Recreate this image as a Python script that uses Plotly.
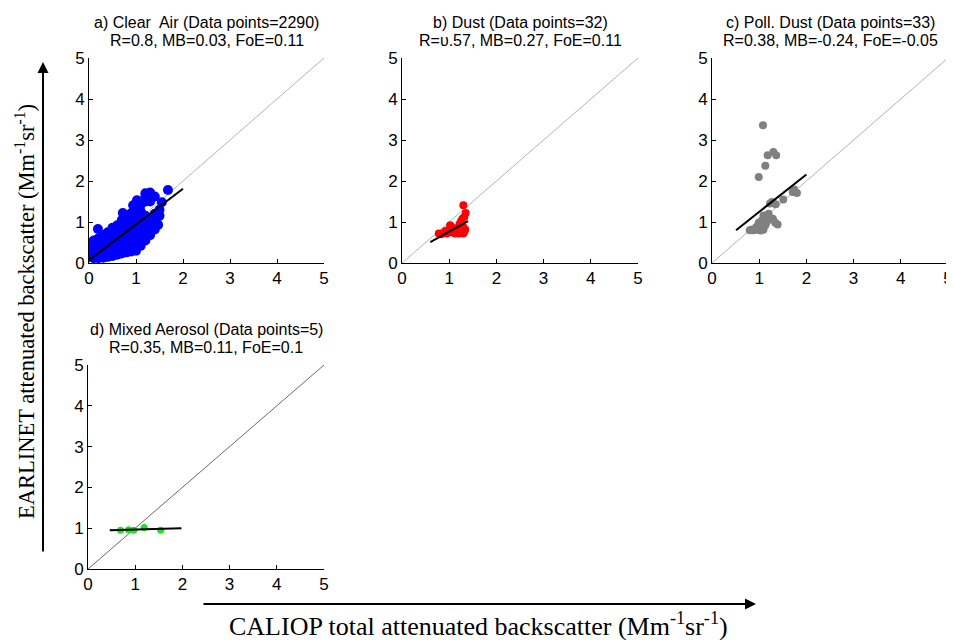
import plotly.graph_objects as go

# page body has an 8px margin; figure is placed at (8, 8) in the window
OFF = 8
W, H = 954 - OFF, 640 - OFF

# ---------------- data ----------------
clear_x = [0.02, 0.02, 0.02, 0.02,
           0.1, 0.1, 0.1, 0.1, 0.1,
           0.19,
           0.2, 0.2, 0.2, 0.2, 0.2,
           0.3, 0.3, 0.3, 0.3, 0.3, 0.3,
           0.4, 0.4, 0.4, 0.4, 0.4, 0.4,
           0.5, 0.5, 0.5, 0.5, 0.5, 0.5, 0.5,
           0.6, 0.6, 0.6, 0.6, 0.6, 0.6, 0.6,
           0.7, 0.7, 0.7, 0.7, 0.7, 0.7, 0.7, 0.7,
           0.72,
           0.8, 0.8, 0.8, 0.8, 0.8, 0.8, 0.8, 0.8,
           0.9, 0.9, 0.9, 0.9, 0.9, 0.9, 0.9, 0.9, 0.9,
           0.94,
           1.0, 1.0, 1.0, 1.0, 1.0, 1.0, 1.0, 1.0, 1.0, 1.0,
           1.02,
           1.1, 1.1, 1.1, 1.1, 1.1, 1.1, 1.1, 1.1, 1.1,
           1.2, 1.2, 1.2, 1.2, 1.2, 1.2, 1.2, 1.2, 1.2,
           1.3, 1.3, 1.3, 1.3, 1.3, 1.3, 1.3,
           1.4, 1.4, 1.4, 1.4, 1.4,
           1.47, 1.5, 1.5, 1.55, 1.68]
clear_y = [0.15, 0.27, 0.39, 0.48,
           0.12, 0.24, 0.36, 0.48, 0.55,
           0.83,
           0.12, 0.24, 0.36, 0.48, 0.60,
           0.13, 0.25, 0.37, 0.49, 0.60, 0.68,
           0.15, 0.27, 0.39, 0.51, 0.63, 0.75,
           0.17, 0.29, 0.41, 0.53, 0.65, 0.77, 0.86,
           0.20, 0.32, 0.44, 0.56, 0.68, 0.80, 0.92,
           0.23, 0.35, 0.47, 0.59, 0.71, 0.83, 0.95, 1.05,
           1.22,
           0.26, 0.38, 0.50, 0.62, 0.74, 0.86, 0.98, 1.10,
           0.28, 0.40, 0.52, 0.64, 0.76, 0.88, 1.00, 1.12, 1.22,
           1.41,
           0.30, 0.42, 0.54, 0.66, 0.78, 0.90, 1.02, 1.14, 1.26, 1.35,
           1.53,
           0.42, 0.54, 0.66, 0.78, 0.90, 1.02, 1.14, 1.26, 1.42,
           0.55, 0.67, 0.79, 0.91, 1.03, 1.15, 1.50, 1.62, 1.70,
           0.68, 0.80, 0.92, 1.04, 1.50, 1.62, 1.72,
           0.82, 0.94, 1.06, 1.20, 1.62,
           0.93, 1.15, 1.30, 1.48, 1.78]
clear_fit_x = [0.0, 2.0]
clear_fit_y = [0.07, 1.81]

dust_x = [0.78, 0.82, 0.86, 0.90, 0.95, 0.98, 1.02, 1.05, 1.00, 1.08, 1.10, 1.12, 1.15, 1.18, 1.20, 1.22,
          1.25, 1.28, 1.30, 1.32, 1.25, 1.30, 1.22, 1.25, 1.28, 1.32, 1.35, 1.30, 0.92, 1.05, 1.15, 1.34]
dust_y = [0.72, 0.70, 0.72, 0.74, 0.72, 0.78, 0.92, 0.88, 0.82, 0.76, 0.80, 0.72, 0.76, 0.82, 0.72, 0.78,
          0.74, 0.80, 0.72, 0.76, 0.86, 0.88, 0.95, 1.02, 1.08, 1.12, 1.22, 1.41, 0.78, 0.75, 0.85, 0.82]
dust_fit_x = [0.6, 1.4]
dust_fit_y = [0.51, 1.02]

pdust_x = [1.08, 0.99, 1.13, 1.18, 1.30, 1.36, 1.23, 1.35, 1.51, 1.74, 1.80, 1.71, 0.80, 0.88, 0.95, 1.09, 1.02,
           1.06, 1.09, 1.18, 1.25, 1.34, 1.39, 1.15, 1.20, 0.99, 0.94, 1.13, 1.29, 1.27, 0.85, 1.03, 1.16]
pdust_y = [3.36, 2.10, 2.37, 2.63, 2.71, 2.63, 1.45, 1.43, 1.55, 1.79, 1.71, 1.73, 0.80, 0.80, 0.81, 0.81, 0.92,
           1.04, 1.16, 1.12, 1.06, 0.98, 0.94, 0.98, 1.20, 0.98, 0.88, 0.92, 1.08, 1.49, 0.82, 0.79, 1.05]
pdust_fit_x = [0.51, 2.0]
pdust_fit_y = [0.80, 2.16]

mixed_x = [0.69, 0.86, 0.97, 1.19, 1.54]
mixed_y = [0.95, 0.96, 0.95, 1.02, 0.95]
mixed_fit_x = [0.46, 1.98]
mixed_fit_y = [0.95, 1.00]

one_to_one = [0, 5]
tick_vals = [0, 1, 2, 3, 4, 5]

title_lines1 = ["a) Clear  Air (Data points=2290)",
                "b) Dust (Data points=32)",
                "c) Poll. Dust (Data points=33)",
                "d) Mixed Aerosol (Data points=5)"]
title_lines2 = ["R=0.8, MB=0.03, FoE=0.11",
                "R=\u03c5.57, MB=0.27, FoE=0.11",
                "R=0.38, MB=-0.24, FoE=-0.05",
                "R=0.35, MB=0.11, FoE=0.1"]


def px(x):
    return (x - OFF) / W


def py(y):
    return 1 - (y - OFF) / H


# ---------------- layout geometry (window pixels) ----------------
panels = [
    dict(x0=89, x1=324, y0=58, y1=263),
    dict(x0=402, x1=638, y0=58, y1=263),
    dict(x0=712, x1=948, y0=58, y1=263),
    dict(x0=88, x1=324, y0=365, y1=569),
]
series = [
    (clear_x, clear_y, clear_fit_x, clear_fit_y, "#0000ff", 10, "#a0a0a0"),
    (dust_x, dust_y, dust_fit_x, dust_fit_y, "#ff0000", 8, "#a0a0a0"),
    (pdust_x, pdust_y, pdust_fit_x, pdust_fit_y, "#808080", 8, "#a0a0a0"),
    (mixed_x, mixed_y, mixed_fit_x, mixed_fit_y, "#22e022", 7, "#444444"),
]

fig = go.Figure()
layout = dict(width=W, height=H, margin=dict(l=0, r=0, t=0, b=0, autoexpand=False),
              paper_bgcolor="white", plot_bgcolor="white", showlegend=False)
annotations = []
tfont = dict(family="Arial, Liberation Sans", size=16, color="black")

for i, (p, s) in enumerate(zip(panels, series)):
    n = "" if i == 0 else str(i + 1)
    xa, ya = "x" + n, "y" + n
    sx, sy, fx, fy, col, msz, diag_col = s
    fig.add_trace(go.Scatter(x=one_to_one, y=one_to_one, mode="lines",
                             line=dict(color=diag_col, width=0.8), xaxis=xa, yaxis=ya))
    fig.add_trace(go.Scatter(x=sx, y=sy, mode="markers",
                             marker=dict(color=col, size=msz, line=dict(width=0)),
                             xaxis=xa, yaxis=ya))
    fig.add_trace(go.Scatter(x=fx, y=fy, mode="lines",
                             line=dict(color="black", width=2), xaxis=xa, yaxis=ya))
    axcommon = dict(range=[0, 5], tickvals=tick_vals, ticks="inside", ticklen=4,
                    tickcolor="black", showline=True, linecolor="black", linewidth=1,
                    showgrid=False, zeroline=False, automargin=False,
                    tickfont=dict(family="Arial, Liberation Sans", size=17, color="black"))
    layout["xaxis" + n] = dict(domain=[px(p["x0"]), px(p["x1"])], anchor=ya, **axcommon)
    layout["yaxis" + n] = dict(domain=[py(p["y1"]), py(p["y0"])], anchor=xa, **axcommon)
    cx = px((p["x0"] + p["x1"]) / 2)
    annotations.append(dict(x=cx, y=py(p["y0"] - 36), xref="paper", yref="paper",
                            xanchor="center", yanchor="middle", text=title_lines1[i],
                            showarrow=False, font=tfont))
    annotations.append(dict(x=cx, y=py(p["y0"] - 18), xref="paper", yref="paper",
                            xanchor="center", yanchor="middle", text=title_lines2[i],
                            showarrow=False, font=tfont))

# Axis label arrows
annotations.append(dict(x=px(43), y=py(62), xref="paper", yref="paper",
                        ax=0, ay=553 - 62, axref="pixel", ayref="pixel", text="",
                        showarrow=True, arrowhead=2, arrowsize=1.1, arrowwidth=2, arrowcolor="black"))
annotations.append(dict(x=px(756), y=py(604), xref="paper", yref="paper",
                        ax=-(756 - 202), ay=0, axref="pixel", ayref="pixel", text="",
                        showarrow=True, arrowhead=2, arrowsize=1.1, arrowwidth=2, arrowcolor="black"))
annotations.append(dict(x=px(25), y=py(312), xref="paper", yref="paper",
                        text="EARLINET attenuated backscatter (Mm<sup>-1</sup>sr<sup>-1</sup>)",
                        textangle=-90, showarrow=False, xanchor="center", yanchor="middle",
                        font=dict(family="Liberation Serif, Times New Roman", size=22.5, color="black")))
annotations.append(dict(x=px(478), y=py(624), xref="paper", yref="paper",
                        text="CALIOP total attenuated backscatter (Mm<sup>-1</sup>sr<sup>-1</sup>)",
                        showarrow=False, xanchor="center", yanchor="middle",
                        font=dict(family="Liberation Serif, Times New Roman", size=26, color="black")))

layout["annotations"] = annotations
fig.update_layout(**layout)
fig.write_html("out.html")
